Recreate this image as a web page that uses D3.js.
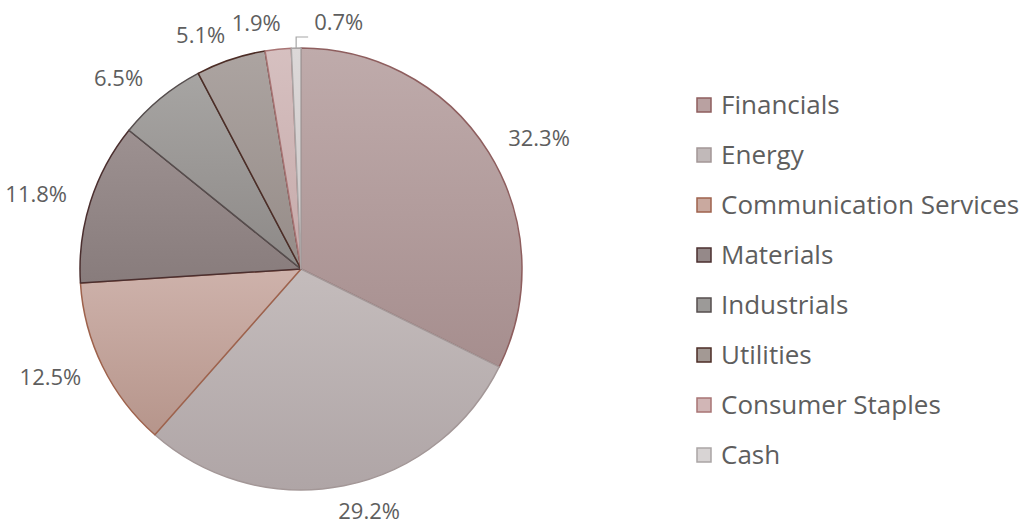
<!DOCTYPE html>
<html><head><meta charset="utf-8">
<script src="https://cdn.jsdelivr.net/npm/d3@7"></script>
<style>html,body{margin:0;padding:0;background:#fff;}svg{display:block;}</style>
</head><body>
<svg id="chart" width="1024" height="523"></svg>
<script>
const categories = ["Financials","Energy","Communication Services","Materials","Industrials","Utilities","Consumer Staples","Cash"];
const values = [32.3, 29.2, 12.5, 11.8, 6.5, 5.1, 1.9, 0.7];
const labels = ["32.3%","29.2%","12.5%","11.8%","6.5%","5.1%","1.9%","0.7%"];
const fillTop = ["#bfabab","#c4bcbc","#ceb2ab","#9d9191","#a7a5a3","#aca4a1","#d6c0c0","#dcd8d8"];
const fillBottom = ["#a68e8e","#afa5a6","#b6958b","#887c7c","#8d8987","#968c88","#c6aaaa","#cdc8c8"];
const strokes = ["#8e5e5e","#a39797","#9e624c","#4b2f2f","#564e4e","#4c2d26","#a87474","#aaa5a5"];
const legendFill = ["#b9a1a1","#c1b9b9","#c9a99f","#958989","#9c9a98","#a39994","#d1b6b6","#d8d4d4"];

const svg = d3.select("#chart");
const cx = 301, cy = 269, r = 221;
const defs = svg.append("defs");
categories.forEach((c,i)=>{
  const g = defs.append("linearGradient").attr("id","g"+i).attr("x1",0).attr("y1",0).attr("x2",0).attr("y2",1);
  g.append("stop").attr("offset","0%").attr("stop-color",fillTop[i]);
  g.append("stop").attr("offset","100%").attr("stop-color",fillBottom[i]);
});

const pie = d3.pie().sort(null).value(d=>d)(values);
const arc = d3.arc().innerRadius(0).outerRadius(r);
const gp = svg.append("g").attr("transform",`translate(${cx},${cy})`);
gp.selectAll("path").data(pie).join("path")
  .attr("d",arc)
  .attr("fill",(d,i)=>`url(#g${i})`)
  .attr("stroke",(d,i)=>strokes[i])
  .attr("stroke-width",1.5)
  .attr("stroke-linejoin","round");

// labels
const labelColor = "#5e5e5e";
const fontLab = "'Open Sans', 'Noto Sans', sans-serif";
pie.forEach((d,i)=>{
  const a = (d.startAngle+d.endAngle)/2;
  const s = Math.sin(a), c = Math.cos(a);
  if (i === pie.length-1) {
    const x0 = r*s, y0 = -r*c;
    const yl = -r - 11;
    gp.append("path").attr("d",`M${x0},${y0}V${yl}H${x0+12}`)
      .attr("fill","none").attr("stroke","#a6a6a6").attr("stroke-width",1.2);
    gp.append("text").attr("x",x0+18).attr("y",yl-15).attr("dy","0.35em")
      .attr("text-anchor","start").attr("fill",labelColor)
      .style("font-family",fontLab).style("font-size","22px").text(labels[i]);
    return;
  }
  const x = 259*s + 18*Math.sign(s) - 4*(1 - Math.abs(s))*Math.sign(s)*0;
  const y = -247*c;
  gp.append("text").attr("x",x).attr("y",y).attr("dy","0.35em")
    .attr("text-anchor","middle").attr("fill",labelColor)
    .style("font-family",fontLab).style("font-size","22px").text(labels[i]);
});

// legend
const lg = svg.append("g");
const ly = d3.scalePoint().domain(categories).range([105,455]);
categories.forEach((c,i)=>{
  const y = ly(c);
  lg.append("rect").attr("x",697).attr("y",y-7).attr("width",14).attr("height",14)
    .attr("fill",legendFill[i]).attr("stroke",strokes[i]).attr("stroke-width",1.5);
  lg.append("text").attr("x",721).attr("y",y).attr("dy","0.36em")
    .attr("fill","#5e5e5e").style("font-family",fontLab).style("font-size","26px").text(c);
});
</script>
</body></html>
